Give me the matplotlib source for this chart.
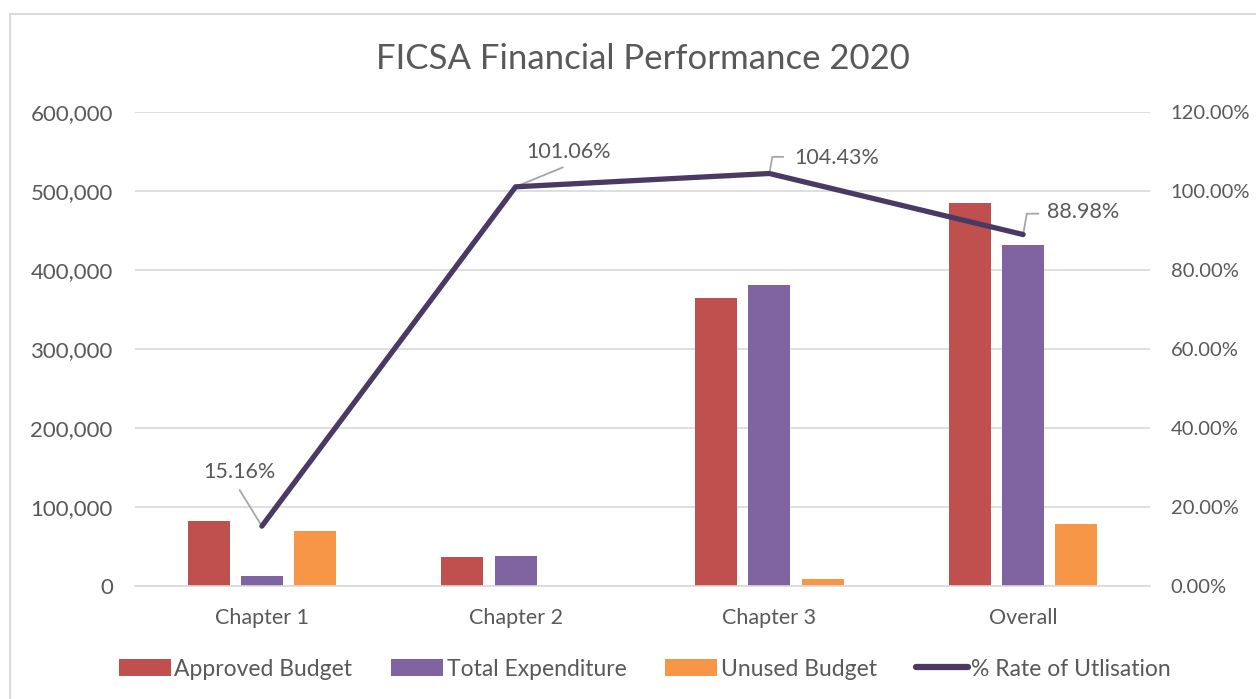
import matplotlib
matplotlib.use("Agg")
import matplotlib.pyplot as plt
import numpy as np
from matplotlib.patches import Rectangle
from matplotlib.lines import Line2D
from matplotlib.ticker import FuncFormatter, MultipleLocator

categories = ["Chapter 1", "Chapter 2", "Chapter 3", "Overall"]
approved_budget = [82000, 37000, 364500, 484800]
total_expenditure = [12430, 37390, 380650, 431370]
unused_budget = [69570, -390, 8900, 78500]
rate_utilisation = [15.16, 101.06, 104.43, 88.98]
rate_labels = ["15.16%", "101.06%", "104.43%", "88.98%"]

plt.rcParams['font.family'] = ['Lato', 'DejaVu Sans']
TXT = '#595959'
FS = 15.5

fig = plt.figure(figsize=(12.56, 6.99), dpi=100)
fig.patches.append(Rectangle((10/1256, -0.01), 1.0, 1 - 14/699 + 0.01, transform=fig.transFigure,
                             fill=False, edgecolor='#D9D9D9', linewidth=1.5))
ax = fig.add_axes([135/1256, 1 - 586/699, 1015/1256, 474/699])
ax2 = ax.twinx()

x = np.arange(len(categories))
w = 0.166
step = 0.21
ax.bar(x - step, approved_budget, w, color='#C0504D', label='Approved Budget', zorder=2)
ax.bar(x, total_expenditure, w, color='#8064A2', label='Total Expenditure', zorder=2)
ax.bar(x + step, unused_budget, w, color='#F79646', label='Unused Budget', zorder=2)

ax.set_xlim(-0.5, 3.5)
ax.set_ylim(0, 600000)
ax.yaxis.set_major_locator(MultipleLocator(100000))
ax.yaxis.set_major_formatter(FuncFormatter(lambda v, p: f"{int(v):,}"))
ax.grid(axis='y', color='#D9D9D9', linewidth=1.2, zorder=0)
ax.set_axisbelow(True)
for s in ['top', 'left', 'right']:
    ax.spines[s].set_visible(False)
    ax2.spines[s].set_visible(False)
ax.spines['bottom'].set_color('#D9D9D9')
ax.spines['bottom'].set_linewidth(1.2)
ax2.spines['bottom'].set_visible(False)
ax.set_xticks(x)
ax.set_xticklabels(categories)
ax.tick_params(axis='x', length=0, labelsize=FS, colors=TXT, pad=16)
ax.tick_params(axis='y', length=0, labelsize=16, colors=TXT, pad=16)

line_color = '#4A3A63'
ax2.plot(x, rate_utilisation, color=line_color, linewidth=3.8, solid_capstyle='round',
         label='% Rate of Utlisation', zorder=5)
ax2.set_ylim(0, 120)
ax2.yaxis.set_major_locator(MultipleLocator(20))
ax2.yaxis.set_major_formatter(FuncFormatter(lambda v, p: f"{v:.2f}%"))
ax2.tick_params(axis='y', length=0, labelsize=14.5, colors=TXT, pad=15)

lead = dict(arrowstyle='-', color='#A6A6A6', lw=1.3, shrinkA=0, shrinkB=2)

# Chapter 1 label
ax2.annotate(rate_labels[0], xy=(x[0], rate_utilisation[0]), xytext=(-16, 32), textcoords='offset points',
             ha='center', va='bottom', fontsize=FS, color=TXT)
ax2.annotate("", xy=(x[0], rate_utilisation[0]), xytext=(-16, 26), textcoords='offset points', arrowprops=lead)
# Chapter 2 label
ax2.annotate(rate_labels[1], xy=(x[1], rate_utilisation[1]), xytext=(8, 18), textcoords='offset points',
             ha='left', va='bottom', fontsize=FS, color=TXT)
ax2.annotate("", xy=(x[1], rate_utilisation[1]), xytext=(34, 14), textcoords='offset points', arrowprops=lead)
# Chapter 3 label
ax2.annotate(rate_labels[2], xy=(x[2], rate_utilisation[2]), xytext=(18, 11), textcoords='offset points',
             ha='left', va='center', fontsize=FS, color=TXT)
ax2.annotate("", xy=(x[2], rate_utilisation[2]), xytext=(10, 12), textcoords='offset points',
             arrowprops=dict(lead, connectionstyle="angle,angleA=0,angleB=80,rad=0"))
# Overall label
ax2.annotate(rate_labels[3], xy=(x[3], rate_utilisation[3]), xytext=(17, 16), textcoords='offset points',
             ha='left', va='center', fontsize=FS, color=TXT)
ax2.annotate("", xy=(x[3], rate_utilisation[3]), xytext=(11, 15), textcoords='offset points',
             arrowprops=dict(lead, connectionstyle="angle,angleA=0,angleB=80,rad=0"))

ax.set_title("FICSA Financial Performance 2020", fontsize=25, color=TXT, pad=31)

h1, l1 = ax.get_legend_handles_labels()
h2 = [Line2D([0], [0], color=line_color, linewidth=4.5, solid_capstyle='round')]
leg = fig.legend(h1 + h2, l1 + ['% Rate of Utlisation'], loc='center', bbox_to_anchor=(0.5135, 1 - 669/699),
                 ncol=4, frameon=False, fontsize=16.5, labelcolor=TXT, handlelength=2.27, handleheight=0.75,
                 handletextpad=0.15, columnspacing=1.7)

fig.savefig("out.png", dpi=100)
